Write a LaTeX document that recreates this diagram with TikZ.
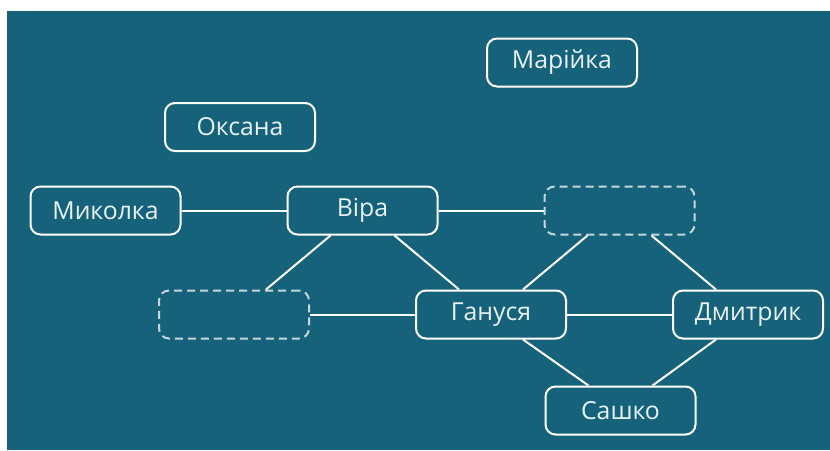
\documentclass[tikz,border=0pt]{standalone}
\usepackage{fontspec}
\setmainfont{Open Sans}
\usetikzlibrary{positioning}

\definecolor{boardbg}{RGB}{23,98,123}
\definecolor{namecol}{RGB}{232,243,248}
\definecolor{blankcol}{RGB}{196,214,222}

\begin{document}
\begin{tikzpicture}[
    x=0.5pt, y=-0.5pt,
    node distance=27.5pt and 52.5pt,
    person/.style={rectangle, draw=white, line width=1pt, rounded corners=5pt, minimum width=75pt, minimum height=24pt, inner sep=2pt, text=namecol, font=\fontsize{12.4}{14}\selectfont},
    blank/.style={person, draw=blankcol, dash pattern=on 4pt off 2.5pt},
    link/.style={draw=white, line width=1pt}
]

% background
\useasboundingbox (0,0) rectangle (830,450);
\fill[boardbg] (7,11) rectangle (830,450);

% middle row
\node[person] (vira) at (362.5,210.5) {Віра};
\node[person, left=of vira] (mykolka) {Миколка};
\node[blank, right=of vira] (blanktop) {};

% lower row
\node[person] (ganusya) at (491,314.5) {Гануся};
\node[blank, left=of ganusya] (blankleft) {};
\node[person, right=of ganusya] (dmytryk) {Дмитрик};
\node[person] (sashko) at (620.5,410.5) {Сашко};

% loose ones
\node[person] (oksana) at (240,127) {Оксана};
\node[person] (mariyka) at (562,62.5) {Марійка};

% links
\draw[link] (mykolka) -- (vira);
\draw[link] (vira) -- (blanktop);
\draw[link] (blankleft) -- (ganusya);
\draw[link] (ganusya) -- (dmytryk);
\draw[link] (vira.218) -- (blankleft.38);
\draw[link] (vira.322) -- (ganusya.142);
\draw[link] (blanktop.218) -- (ganusya.38);
\draw[link] (blanktop.322) -- (dmytryk.142);
\draw[link] (ganusya.322) -- (sashko.142);
\draw[link] (dmytryk.218) -- (sashko.38);

\end{tikzpicture}
\end{document}
